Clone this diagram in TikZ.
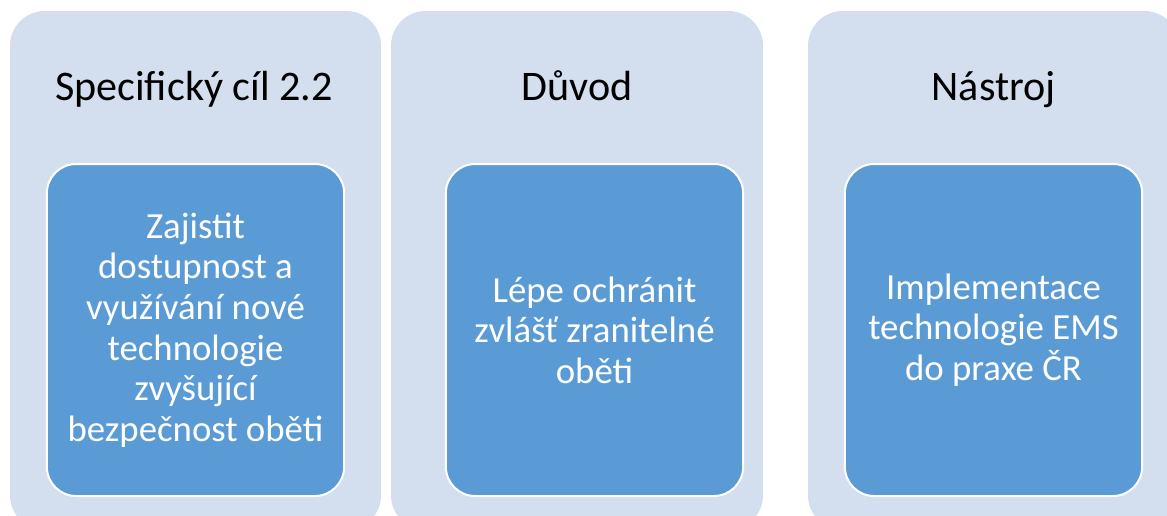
\documentclass[tikz,border=0pt]{standalone}
\usepackage{fontspec}
\setmainfont{Carlito}
\usetikzlibrary{positioning}
\definecolor{panelfill}{HTML}{D3DEEF}
\definecolor{boxfill}{HTML}{5B9BD5}

\begin{document}
\begin{tikzpicture}[x=0.75pt,y=-0.75pt,
  panel/.style={fill=panelfill,rounded corners=26pt},
  heading/.style={anchor=base,font=\fontsize{31.6}{38}\selectfont},
  goalbox/.style={draw=white,line width=1.5pt,fill=boxfill,rounded corners=22pt,
    text=white,align=center,minimum width=223pt,minimum height=249pt,
    font=\fontsize{27.6}{30.4}\selectfont}]

\useasboundingbox (0,0) rectangle (1167,515);

% three columns
\fill[panel] (10,11) rectangle (381,530);
\fill[panel] (391,11) rectangle (763,530);
\fill[panel] (808,11) rectangle (1179,530);

\node[heading] (cil) at (194,100) {Specifický cíl 2.2};
\node[heading] (duvod) at (577,100) {Důvod};
\node[heading] (nastroj) at (993.5,100) {Nástroj};

\node[goalbox] (zajistit) at (195.5,330) {Zajistit\\dostupnost a\\využívání nové\\technologie\\zvyšující\\bezpečnost oběti};
\node[goalbox] (ochranit) at (594.5,330) {Lépe ochránit\\zvlášť zranitelné\\oběti};
\node[goalbox] (ems) at (993.5,330) {Implementace\\technologie EMS\\do praxe ČR};

\end{tikzpicture}
\end{document}
